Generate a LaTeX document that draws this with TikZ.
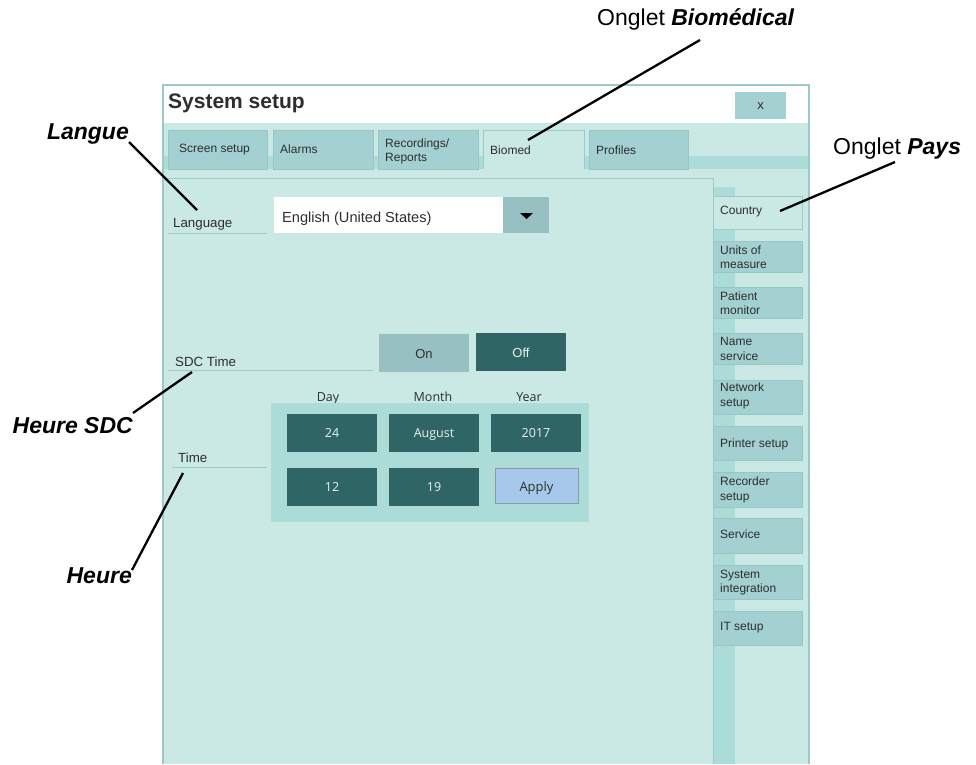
\documentclass[tikz,border=0pt]{standalone}
\usepackage{fontspec}
\setmainfont{Liberation Sans}
\newfontfamily\segfont{Open Sans}
\definecolor{bg}{HTML}{CAE8E4}
\definecolor{band}{HTML}{ACDCD8}
\definecolor{tabfill}{HTML}{A3D0D1}
\definecolor{tabedge}{HTML}{98C6C7}
\definecolor{winedge}{HTML}{9EC9C9}
\definecolor{onfill}{HTML}{96C0C2}
\definecolor{darkbtn}{HTML}{2F6665}
\definecolor{applyfill}{HTML}{A6C8EA}
\definecolor{applyedge}{HTML}{8C9AA6}
\definecolor{txt}{HTML}{2E2E2E}
\definecolor{btntxt}{HTML}{E6F2F2}
\begin{document}
\begin{tikzpicture}[x=1pt,y=-1pt,
  tabbox/.style={draw=tabedge,fill=tabfill,line width=0.9pt},
  tabtxt/.style={anchor=west,inner sep=0pt,align=left,text=txt,font=\fontsize{12}{14.5}\selectfont},
  lbltxt/.style={anchor=west,inner sep=0pt,text=txt,font=\fontsize{13.3}{16}\selectfont},
  underl/.style={draw=winedge,line width=1pt},
  datebtn/.style={fill=darkbtn},
  datetxt/.style={anchor=base,inner sep=0pt,text=btntxt,font=\segfont\fontsize{12.5}{15}\selectfont},
  headtxt/.style={anchor=base,inner sep=0pt,text=txt,font=\segfont\fontsize{12.5}{15}\selectfont},
  callout/.style={inner sep=0pt,text=black,font=\fontsize{23}{27}\selectfont\bfseries\itshape},
  leader/.style={draw=black,line width=2.3pt}]
\useasboundingbox (0,0) rectangle (976,764);
\fill[white] (0,0) rectangle (976,764);
% window
\fill[white] (163,85) rectangle (809,123);
\fill[bg] (163,123) rectangle (809,764);
\fill[band] (163,156) rectangle (809,169);
\fill[band] (713,187) rectangle (735,764);
% title
\node[anchor=west,inner sep=0pt,text=txt,font=\fontsize{21}{25}\selectfont\bfseries] (title) at (168,103) {System setup};
\fill[tabfill] (735,92) rectangle (786,119);
\node[inner sep=0pt,text=txt,font=\fontsize{13}{15}\selectfont] (close) at (760.5,106) {x};
% top tabs
\draw[tabbox] (168,130) rectangle (267,169);
\node[tabtxt] (tscreen) at (179,149.5) {Screen setup};
\draw[tabbox] (273,130) rectangle (373,169);
\node[tabtxt] (talarms) at (280,149.5) {Alarms};
\draw[tabbox] (378,130) rectangle (478,169);
\node[tabtxt] (trec) at (385,151.5) {Recordings/\\Reports};
\fill[bg] (483,130) rectangle (584,178);
\draw[winedge,line width=0.9pt] (483,169) -- (483,130) -- (584,130) -- (584,169);
\node[tabtxt] (tbiomed) at (490,150.5) {Biomed};
\draw[tabbox] (589,130) rectangle (688,169);
\node[tabtxt] (tprofiles) at (596,150.5) {Profiles};
% content border
\draw[winedge,line width=1pt] (163,178) -- (713,178) -- (713,764);
% right tabs
\draw[winedge,fill=bg,line width=0.9pt] (713,196) rectangle (802,229);
\node[tabtxt] (rcountry) at (720,212) {Country};
\draw[tabbox] (713,241) rectangle (802,272);
\node[tabtxt] (runits) at (720,257) {Units of\\measure};
\draw[tabbox] (713,287) rectangle (802,318);
\node[tabtxt] (rpatient) at (720,303) {Patient\\monitor};
\draw[tabbox] (713,333) rectangle (802,364);
\node[tabtxt] (rname) at (720,349) {Name\\service};
\draw[tabbox] (713,380) rectangle (802,414);
\node[tabtxt] (rnetwork) at (720,396) {Network\\setup};
\draw[tabbox] (713,426) rectangle (802,460);
\node[tabtxt] (rprinter) at (720,444.5) {Printer setup};
\draw[tabbox] (713,472) rectangle (802,507);
\node[tabtxt] (rrecorder) at (720,490) {Recorder\\setup};
\draw[tabbox] (713,518) rectangle (802,553);
\node[tabtxt] (rservice) at (720,534.5) {Service};
\draw[tabbox] (713,565) rectangle (802,599);
\node[tabtxt] (rsysint) at (720,582.5) {System\\integration};
\draw[tabbox] (713,611) rectangle (802,645);
\node[tabtxt] (rit) at (720,627.5) {IT setup};
% window outline
\draw[winedge,line width=1.2pt] (163,764) -- (163,85) -- (809,85) -- (809,764);
% language
\node[lbltxt] (language) at (173,224) {Language};
\draw[underl] (168,233) -- (267,233);
\fill[white] (274,197) rectangle (503,233);
\node[anchor=west,inner sep=0pt,text=txt,font=\fontsize{14.6}{17}\selectfont] (english) at (282,218.5) {English (United States)};
\fill[onfill] (503,197) rectangle (549,233);
\fill[black] (520,213) -- (533,213) -- (526.5,219) -- cycle;
% SDC time
\node[lbltxt] (sdctime) at (175,361.5) {SDC Time};
\draw[underl] (168,370) -- (373,370);
\fill[onfill] (379,334) rectangle (469,372);
\node[inner sep=0pt,text=txt,font=\fontsize{13}{15}\selectfont] (on) at (424,354) {On};
\fill[darkbtn] (476,333) rectangle (566,371);
\node[inner sep=0pt,text=btntxt,font=\fontsize{13}{15}\selectfont] (off) at (521,353) {Off};
% time
\node[headtxt] (day) at (328,401) {Day};
\node[headtxt] (month) at (433,401) {Month};
\node[headtxt] (year) at (529,401) {Year};
\fill[band] (271,403) rectangle (589,522);
\fill[datebtn] (287,414) rectangle (377,452);
\node[datetxt] (d24) at (332,437.5) {24};
\fill[datebtn] (389,414) rectangle (479,452);
\node[datetxt] (august) at (434,437.5) {August};
\fill[datebtn] (491,414) rectangle (581,452);
\node[datetxt] (y2017) at (536,437.5) {2017};
\fill[datebtn] (287,468) rectangle (377,506);
\node[datetxt] (h12) at (332,491.5) {12};
\fill[datebtn] (389,468) rectangle (479,506);
\node[datetxt] (m19) at (434,491.5) {19};
\draw[fill=applyfill,draw=applyedge,line width=0.8pt] (495,468) rectangle (578,503);
\node[anchor=base,inner sep=0pt,text=txt,font=\segfont\fontsize{13}{15}\selectfont] (apply) at (536.5,491) {Apply};
\node[lbltxt] (time) at (178,457.5) {Time};
\draw[underl] (172,467) -- (267,467);
% callouts
\node[anchor=base west,inner sep=0pt] (onglet1) at (597,25.5) {\fontsize{23}{27}\selectfont Onglet \bfseries\itshape Biomédical};
\node[anchor=base west,inner sep=0pt] (onglet2) at (833,154) {\fontsize{23}{27}\selectfont Onglet \bfseries\itshape Pays};
\node[callout,anchor=base east] (langue) at (129,139) {Langue};
\node[callout,anchor=base east] (heuresdc) at (133,433) {Heure SDC};
\node[callout,anchor=base east] (heure) at (132,583) {Heure};
\coordinate (c1a) at (700,40); \coordinate (c1b) at (528,140);
\coordinate (c2a) at (895,162); \coordinate (c2b) at (780,211);
\coordinate (c3a) at (129,142); \coordinate (c3b) at (197,210);
\coordinate (c4a) at (133,413); \coordinate (c4b) at (192,372);
\coordinate (c5a) at (132,570); \coordinate (c5b) at (183,473);
\draw[leader] (c1a) -- (c1b);
\draw[leader] (c2a) -- (c2b);
\draw[leader] (c3a) -- (c3b);
\draw[leader] (c4a) -- (c4b);
\draw[leader] (c5a) -- (c5b);
\end{tikzpicture}
\end{document}
